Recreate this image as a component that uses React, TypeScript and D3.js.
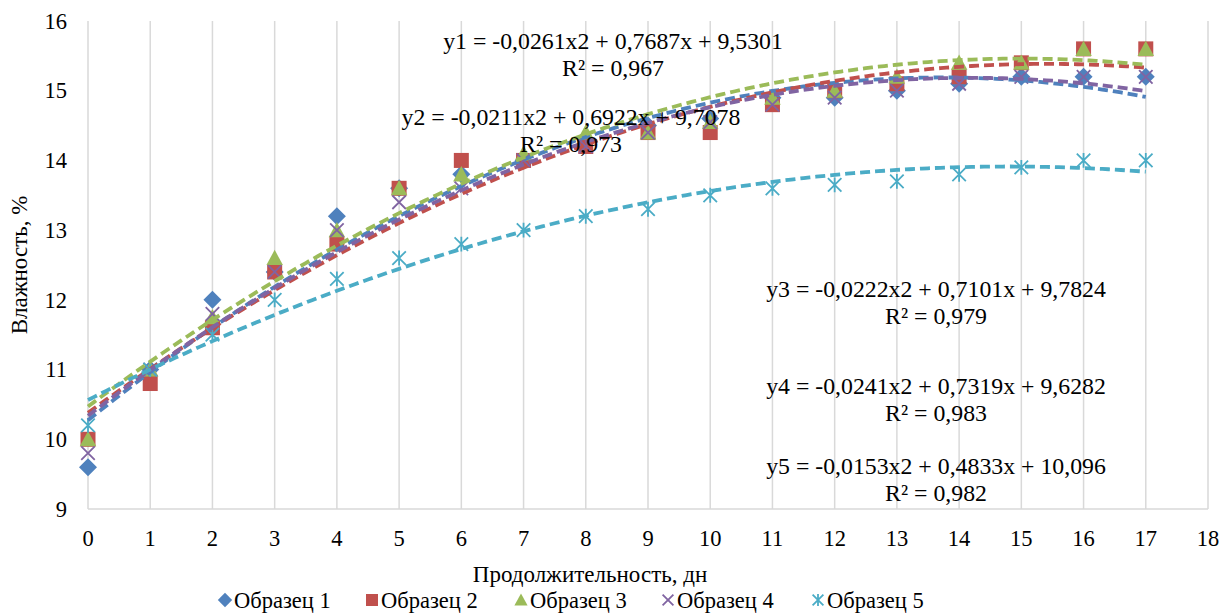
import React from "react";
import * as d3 from "d3";

const days = [0, 1, 2, 3, 4, 5, 6, 7, 8, 9, 10, 11, 12, 13, 14, 15, 16, 17];
const seriesNames = ["Образец 1", "Образец 2", "Образец 3", "Образец 4", "Образец 5"];
const s1 = [9.6, 11.0, 12.0, 12.4, 13.2, 13.6, 13.8, 14.0, 14.3, 14.5, 14.6, 14.9, 14.9, 15.0, 15.1, 15.2, 15.2, 15.2];
const s2 = [10.0, 10.8, 11.6, 12.4, 12.8, 13.6, 14.0, 14.0, 14.2, 14.4, 14.4, 14.8, 15.0, 15.1, 15.2, 15.4, 15.6, 15.6];
const s3 = [10.0, 11.0, 11.75, 12.6, 13.0, 13.6, 13.8, 14.1, 14.4, 14.4, 14.55, 14.9, 15.0, 15.2, 15.4, 15.4, 15.6, 15.6];
const s4 = [9.8, 11.0, 11.8, 12.4, 13.0, 13.4, 13.6, 14.0, 14.2, 14.4, 14.55, 14.8, 14.9, 15.0, 15.1, 15.2, 15.2, 15.2];
const s5 = [10.2, 11.0, 11.5, 12.0, 12.3, 12.6, 12.8, 13.0, 13.2, 13.3, 13.5, 13.6, 13.65, 13.7, 13.8, 13.9, 14.0, 14.0];
const seriesValues = [s1, s2, s3, s4, s5];

// polynomial trendline coefficients (a*x^2 + b*x + c, x = point index starting at 1)
const trendA = [-0.0261, -0.0211, -0.0222, -0.0241, -0.0153];
const trendB = [0.7687, 0.6922, 0.7101, 0.7319, 0.4833];
const trendC = [9.5301, 9.7078, 9.7824, 9.6282, 10.096];
const eqLines = [
  ["y1 = -0,0261x2 + 0,7687x + 9,5301", "R² = 0,967"],
  ["y2 = -0,0211x2 + 0,6922x + 9,7078", "R² = 0,973"],
  ["y3 = -0,0222x2 + 0,7101x + 9,7824", "R² = 0,979"],
  ["y4 = -0,0241x2 + 0,7319x + 9,6282", "R² = 0,983"],
  ["y5 = -0,0153x2 + 0,4833x + 10,096", "R² = 0,982"],
];
const xTicks = d3.range(0, 19);
const yTicks = [9, 10, 11, 12, 13, 14, 15, 16];

const colors = ["#4F81BD", "#C0504D", "#9BBB59", "#8064A2", "#4BACC6"];
const FONT = "'Liberation Serif', 'Times New Roman', serif";

const W = 1223, H = 613;
const x = d3.scaleLinear().domain([0, 18]).range([88, 1208]);
const y = d3.scaleLinear().domain([9, 16]).range([509, 21]);

// label placement (center x, baseline y of first line)
const eqPos = [
  [613, 49],
  [571, 125],
  [936, 297],
  [936, 394],
  [936, 474],
];

function Marker({ kind, cx, cy, s }: { kind: number; cx: number; cy: number; s: number }) {
  const c = colors[kind];
  if (kind === 0) {
    const r = s * 0.6;
    return <path d={`M${cx},${cy - r}L${cx + r},${cy}L${cx},${cy + r}L${cx - r},${cy}Z`} fill={c} />;
  }
  if (kind === 1) {
    const r = s * 0.5;
    return <rect x={cx - r} y={cy - r} width={2 * r} height={2 * r} fill={c} />;
  }
  if (kind === 2) {
    const r = s * 0.55;
    return <path d={`M${cx},${cy - r}L${cx + r},${cy + r * 0.85}L${cx - r},${cy + r * 0.85}Z`} fill={c} />;
  }
  if (kind === 3) {
    const r = s * 0.45;
    return (
      <path d={`M${cx - r},${cy - r}L${cx + r},${cy + r}M${cx + r},${cy - r}L${cx - r},${cy + r}`} stroke={c} strokeWidth={1.8} fill="none" />
    );
  }
  const r = s * 0.45;
  return (
    <path
      d={`M${cx - r},${cy - r}L${cx + r},${cy + r}M${cx + r},${cy - r}L${cx - r},${cy + r}M${cx},${cy - r * 1.1}L${cx},${cy + r * 1.1}`}
      stroke={c}
      strokeWidth={1.8}
      fill="none"
    />
  );
}

export default function App() {
  const samples = d3.range(0, 17.0001, 0.1);
  const line = d3
    .line<number>()
    .x((d) => x(d))
    .curve(d3.curveLinear);

  const legendStart = [219, 366, 515, 662, 812];

  return (
    <svg width={W} height={H} style={{ position: "absolute", left: 0, top: 0, background: "#fff" }} fontFamily={FONT}>
      <rect width={W} height={H} fill="#fff" />
      {/* vertical gridlines */}
      {xTicks.map((t) => (
        <line key={t} x1={x(t)} x2={x(t)} y1={y(16)} y2={y(9)} stroke="#D9D9D9" strokeWidth={1.5} />
      ))}
      <line x1={x(0)} x2={x(18)} y1={y(9)} y2={y(9)} stroke="#D9D9D9" strokeWidth={1.5} />
      {/* tick labels */}
      {yTicks.map((t) => (
        <text key={t} x={67} y={y(t)} dy="0.34em" textAnchor="end" fontSize={22.5} fill="#000">
          {t}
        </text>
      ))}
      {xTicks.map((t) => (
        <text key={t} x={x(t)} y={538} dy="0.34em" textAnchor="middle" fontSize={22.5} fill="#000">
          {t}
        </text>
      ))}
      {/* markers */}
      {seriesValues.map((vals, si) => (
        <g key={si}>
          {vals.map((v, i) => (
            <Marker key={i} kind={si} cx={x(days[i])} cy={y(v)} s={15} />
          ))}
        </g>
      ))}
      {/* trendlines */}
      {trendA.map((a, si) => (
        <path
          key={si}
          d={line.y((d) => y(a * (d + 1) * (d + 1) + trendB[si] * (d + 1) + trendC[si]))(samples) || ""}
          fill="none"
          stroke={colors[si]}
          strokeWidth={3.8}
          strokeDasharray="10,5"
        />
      ))}
      {/* equations */}
      {eqLines.map((ls, i) => (
        <g key={i}>
          <text x={eqPos[i][0]} y={eqPos[i][1]} textAnchor="middle" fontSize={23.8} fill="#000">
            {ls[0]}
          </text>
          <text x={eqPos[i][0]} y={eqPos[i][1] + 27} textAnchor="middle" fontSize={23.8} fill="#000">
            {ls[1]}
          </text>
        </g>
      ))}
      {/* axis titles */}
      <text transform="translate(27,265) rotate(-90)" textAnchor="middle" fontSize={23} fill="#000">
        Влажность, %
      </text>
      <text x={590} y={582} textAnchor="middle" fontSize={23} fill="#000">
        Продолжительность, дн
      </text>
      {/* legend */}
      {seriesNames.map((n, i) => (
        <g key={i}>
          <Marker kind={i} cx={legendStart[i] + 6} cy={600} s={12} />
          <text x={legendStart[i] + 15} y={608} fontSize={22.5} fill="#000">
            {n}
          </text>
        </g>
      ))}
    </svg>
  );
}
